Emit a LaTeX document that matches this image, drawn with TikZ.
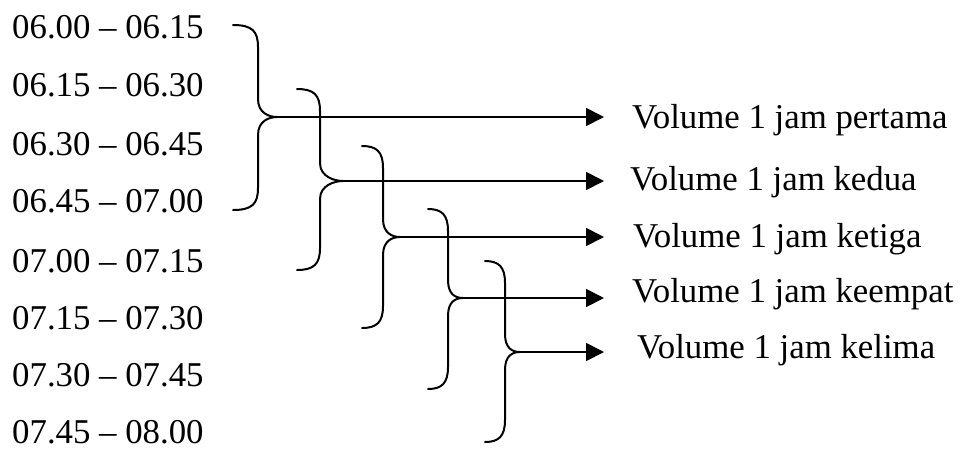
\documentclass[tikz,border=0pt]{standalone}
\usepackage{fontspec}
\setmainfont{Liberation Serif}
\usetikzlibrary{arrows.meta}
\begin{document}
\begin{tikzpicture}[x=1pt,y=-1pt,
  lbl/.style={anchor=base west,inner sep=0pt,font=\fontsize{34.8}{40}\selectfont},
  bracestroke/.style={line width=2pt,line cap=round},
  conn/.style={line width=1.8pt,-{Triangle[length=18pt,width=18pt]}}]
\useasboundingbox (0,0) rectangle (963,459);
% left time labels
\node[lbl] (t1) at (12,38)  {06.00 – 06.15};
\node[lbl] (t2) at (12,96)  {06.15 – 06.30};
\node[lbl] (t3) at (12,155) {06.30 – 06.45};
\node[lbl] (t4) at (12,212) {06.45 – 07.00};
\node[lbl] (t5) at (12,272) {07.00 – 07.15};
\node[lbl] (t6) at (12,329) {07.15 – 07.30};
\node[lbl] (t7) at (12,386) {07.30 – 07.45};
\node[lbl] (t8) at (12,443) {07.45 – 08.00};
% right labels
\node[lbl] (v1) at (632,128) {Volume 1 jam pertama};
\node[lbl] (v2) at (630,190) {Volume 1 jam kedua};
\node[lbl] (v3) at (633,247) {Volume 1 jam ketiga};
\node[lbl] (v4) at (632,302) {Volume 1 jam keempat};
\node[lbl] (v5) at (637,358) {Volume 1 jam kelima};
% braces and arrows
\foreach \i/\e/\v/\t/\a/\b/\m in {1/233/258/277/25/210/117, 2/297/320/343/89/270/181, 3/362/383/400/146/328/237, 4/428/448/463/209/389/298, 5/485/505/520/261/442/352} {
  \coordinate (tip\i) at (\t,\m);
  \coordinate (end\i) at (604,\m);
  \draw[bracestroke] (\e,\a) .. controls (\v-6,\a) and (\v,\a+6) .. (\v,\a+22)
     -- (\v,\m-18) .. controls (\v,\m-4) and (\t-8,\m) .. (tip\i)
     .. controls (\t-8,\m) and (\v,\m+4) .. (\v,\m+18)
     -- (\v,\b-22) .. controls (\v,\b-6) and (\v-6,\b) .. (\e,\b);
  \draw[conn] (tip\i) -- (end\i);
}
\end{tikzpicture}
\end{document}
